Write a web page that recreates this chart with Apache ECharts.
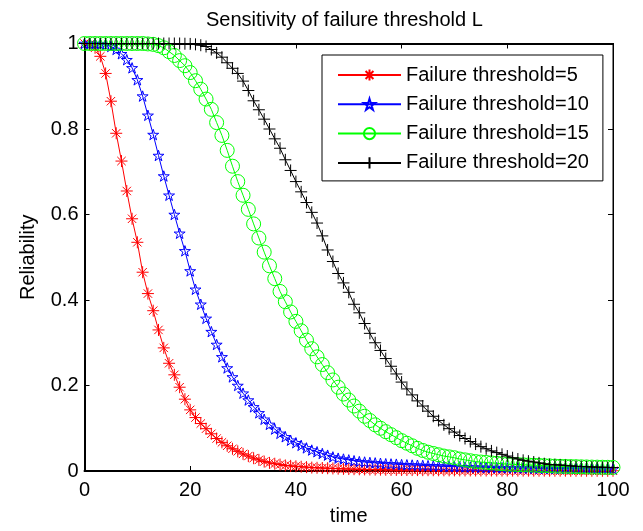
<!DOCTYPE html>
<html>
<head>
<meta charset="utf-8">
<script src="https://cdn.jsdelivr.net/npm/echarts@6/dist/echarts.min.js"></script>
<style>html,body{margin:0;padding:0;background:#fff}#c{width:643px;height:531px}</style>
</head>
<body>
<div id="c"></div>
<script>
var titleText = 'Sensitivity of failure threshold L';
var xName = 'time';
var yName = 'Reliability';
var seriesNames = ['Failure threshold=5', 'Failure threshold=10', 'Failure threshold=15', 'Failure threshold=20'];
var xTicks = [0, 20, 40, 60, 80, 100];
var yTicks = [0, 0.2, 0.4, 0.6, 0.8, 1];

var time = [0,1,2,3,4,5,6,7,8,9,10,11,12,13,14,15,16,17,18,19,20,21,22,23,24,25,26,27,28,29,30,31,32,33,34,35,36,37,38,39,40,41,42,43,44,45,46,47,48,49,50,51,52,53,54,55,56,57,58,59,60,61,62,63,64,65,66,67,68,69,70,71,72,73,74,75,76,77,78,79,80,81,82,83,84,85,86,87,88,89,90,91,92,93,94,95,96,97,98,99,100];

var rel5 = [1.0,0.998,0.99,0.97,0.93,0.865,0.79,0.725,0.655,0.59,
0.535,0.465,0.415,0.375,0.33,0.288,0.252,0.225,0.196,0.168,
0.143,0.125,0.111,0.099,0.087,0.076,0.067,0.059,0.052,0.046,
0.04,0.035,0.03,0.026,0.022,0.019,0.017,0.015,0.013,0.012,
0.011,0.010,0.009,0.008,0.0075,0.007,0.0065,0.006,0.0055,0.005,
0.0046,0.0043,0.004,0.0037,0.0035,0.0033,0.0031,0.0029,0.0027,0.0025,
0.0024,0.0023,0.0022,0.0021,0.002,0.0019,0.0018,0.0017,0.0016,0.0015,
0.0014,0.0014,0.0013,0.0013,0.0012,0.0012,0.0011,0.0011,0.001,0.001,
0.001,0.0009,0.0009,0.0009,0.0008,0.0008,0.0008,0.0008,0.0007,0.0007,
0.0007,0.0007,0.0006,0.0006,0.0006,0.0006,0.0005,0.0005,0.0005,0.0005,
0.0005];

var rel10 = [1,1,1,0.999,0.997,0.993,0.986,0.976,0.962,0.943,
0.915,0.877,0.832,0.787,0.738,0.69,0.645,0.6,0.556,0.515,
0.468,0.425,0.39,0.357,0.326,0.296,0.267,0.241,0.22,0.2,
0.182,0.166,0.15,0.136,0.121,0.109,0.098,0.088,0.08,0.072,
0.066,0.06,0.054,0.049,0.045,0.041,0.037,0.033,0.03,0.028,
0.026,0.024,0.022,0.021,0.02,0.019,0.018,0.017,0.0165,0.016,
0.015,0.0145,0.014,0.0135,0.013,0.0125,0.012,0.0115,0.011,0.0105,
0.01,0.0098,0.0095,0.0092,0.009,0.0087,0.0085,0.0082,0.008,0.0078,
0.0076,0.0074,0.0072,0.007,0.0068,0.0066,0.0064,0.0062,0.006,0.0059,
0.0058,0.0057,0.0056,0.0055,0.0054,0.0053,0.0052,0.0051,0.005,0.005,
0.005];

var rel15 = [1,1,1,1,1,1,1,1,1,1,
1,1,0.999,0.998,0.995,0.99,0.981,0.972,0.96,0.948,
0.932,0.913,0.893,0.87,0.846,0.815,0.785,0.75,0.713,0.677,
0.645,0.612,0.578,0.545,0.512,0.48,0.45,0.42,0.396,0.372,
0.35,0.328,0.306,0.286,0.267,0.249,0.23,0.213,0.196,0.18,
0.166,0.152,0.14,0.128,0.118,0.108,0.1,0.092,0.085,0.078,
0.071,0.065,0.059,0.053,0.048,0.044,0.041,0.038,0.035,0.033,
0.031,0.028,0.026,0.024,0.022,0.021,0.02,0.019,0.018,0.017,
0.016,0.0155,0.015,0.0145,0.014,0.0135,0.013,0.0125,0.012,0.0115,
0.011,0.0107,0.0104,0.0101,0.0098,0.0095,0.0092,0.009,0.0088,0.0086,
0.0084];

var rel20 = [1,1,1,1,1,1,1,1,1,1,
1,1,1,1,1,1,1,1,1,0.9995,
0.999,0.998,0.996,0.993,0.986,0.978,0.968,0.955,0.942,0.93,
0.912,0.89,0.866,0.845,0.823,0.8,0.777,0.755,0.728,0.703,
0.677,0.653,0.628,0.605,0.58,0.55,0.517,0.49,0.462,0.44,
0.418,0.39,0.37,0.345,0.322,0.3,0.282,0.263,0.245,0.227,
0.208,0.192,0.178,0.164,0.152,0.14,0.128,0.118,0.108,0.099,
0.091,0.083,0.076,0.069,0.063,0.057,0.052,0.047,0.043,0.039,
0.035,0.031,0.028,0.025,0.023,0.021,0.019,0.017,0.015,0.0145,
0.014,0.013,0.012,0.011,0.0105,0.01,0.0095,0.009,0.0087,0.0084,
0.008];

var colors = ['#ff0000', '#0000ff', '#00ff00', '#000000'];

var FONT = '"Liberation Sans", Arial, Helvetica, sans-serif';
var symAsterisk = 'path://M0,-10L0,10M-10,0L10,0M-7,-7L7,7M-7,7L7,-7';
var symStar = 'path://M0,-10L2.245,-3.09L9.51,-3.09L3.633,1.18L5.88,8.09L0,3.82L-5.88,8.09L-3.633,1.18L-9.51,-3.09L-2.245,-3.09Z';
var symPlus = 'path://M0,-10L0,10M-10,0L10,0';
var symbols = [symAsterisk, symStar, 'circle', symPlus];
var symbolSizes = [12, 11, 14, 12];
var allVals = [rel5, rel10, rel15, rel20];

function pairs(xs, ys) {
  var out = [];
  for (var i = 0; i < xs.length; i++) out.push([xs[i], ys[i]]);
  return out;
}

var series = allVals.map(function (vals, k) {
  return {
    name: seriesNames[k],
    type: 'line',
    data: pairs(time, vals),
    xAxisIndex: 0,
    yAxisIndex: 0,
    clip: false,
    showAllSymbol: true,
    symbol: symbols[k],
    symbolSize: symbolSizes[k],
    symbolKeepAspect: true,
    color: colors[k],
    lineStyle: { color: colors[k], width: 1 },
    itemStyle: { color: 'rgba(0,0,0,0)', borderColor: colors[k], borderWidth: 1 },
    emphasis: { disabled: true },
    z: 2 + k
  };
});

var chart = echarts.init(document.getElementById('c'), null, { renderer: 'canvas' });
chart.setOption({
  animation: false,
  backgroundColor: '#ffffff',
  title: {
    text: titleText,
    left: 206,
    top: 10,
    padding: 0,
    textStyle: { fontFamily: FONT, fontSize: 20, fontWeight: 'normal', color: '#000' }
  },
  legend: {
    data: seriesNames,
    orient: 'vertical',
    left: 322,
    top: 55,
    padding: [10, 14, 8, 15],
    itemWidth: 63,
    itemHeight: 14,
    itemGap: 9.3,
    backgroundColor: '#fff',
    borderColor: '#000',
    borderWidth: 1,
    borderRadius: 0,
    z: 10,
    textStyle: { fontFamily: FONT, fontSize: 20, color: '#000' }
  },
  grid: { left: 84.5, right: 30, top: 43.5, bottom: 55, containLabel: false,
    show: true, borderColor: '#000', borderWidth: 1, backgroundColor: '#fff' },
  xAxis: [{
    type: 'value', min: 0, max: 100, interval: 20, position: 'bottom',
    name: xName, nameLocation: 'middle', nameGap: 35,
    nameTextStyle: { fontFamily: FONT, fontSize: 20, color: '#000' },
    axisLine: { show: true, onZero: false, lineStyle: { color: '#000', width: 2 } },
    axisTick: { show: true, inside: true, length: 5, lineStyle: { color: '#000' } },
    axisLabel: { fontFamily: FONT, fontSize: 20, color: '#000', margin: 9 },
    splitLine: { show: false }
  }, {
    type: 'value', min: 0, max: 100, interval: 20, position: 'top',
    axisLine: { show: true, onZero: false, lineStyle: { color: '#000', width: 2 } },
    axisTick: { show: true, inside: true, length: 5, lineStyle: { color: '#000' } },
    axisLabel: { show: false },
    splitLine: { show: false }
  }],
  yAxis: [{
    type: 'value', min: 0, max: 1, interval: 0.2, position: 'left',
    name: yName, nameLocation: 'middle', nameGap: 46, nameRotate: 90,
    nameTextStyle: { fontFamily: FONT, fontSize: 20, color: '#000' },
    axisLine: { show: true, onZero: false, lineStyle: { color: '#000', width: 2 } },
    axisTick: { show: true, inside: true, length: 5, lineStyle: { color: '#000' } },
    axisLabel: { fontFamily: FONT, fontSize: 20, color: '#000', margin: 6,
      formatter: function (v) { return String(Math.round(v * 10) / 10); } },
    splitLine: { show: false }
  }, {
    type: 'value', min: 0, max: 1, interval: 0.2, position: 'right',
    axisLine: { show: true, onZero: false, lineStyle: { color: '#000', width: 1 } },
    axisTick: { show: true, inside: true, length: 5, lineStyle: { color: '#000' } },
    axisLabel: { show: false },
    splitLine: { show: false }
  }],
  series: series
});
</script>
</body>
</html>
